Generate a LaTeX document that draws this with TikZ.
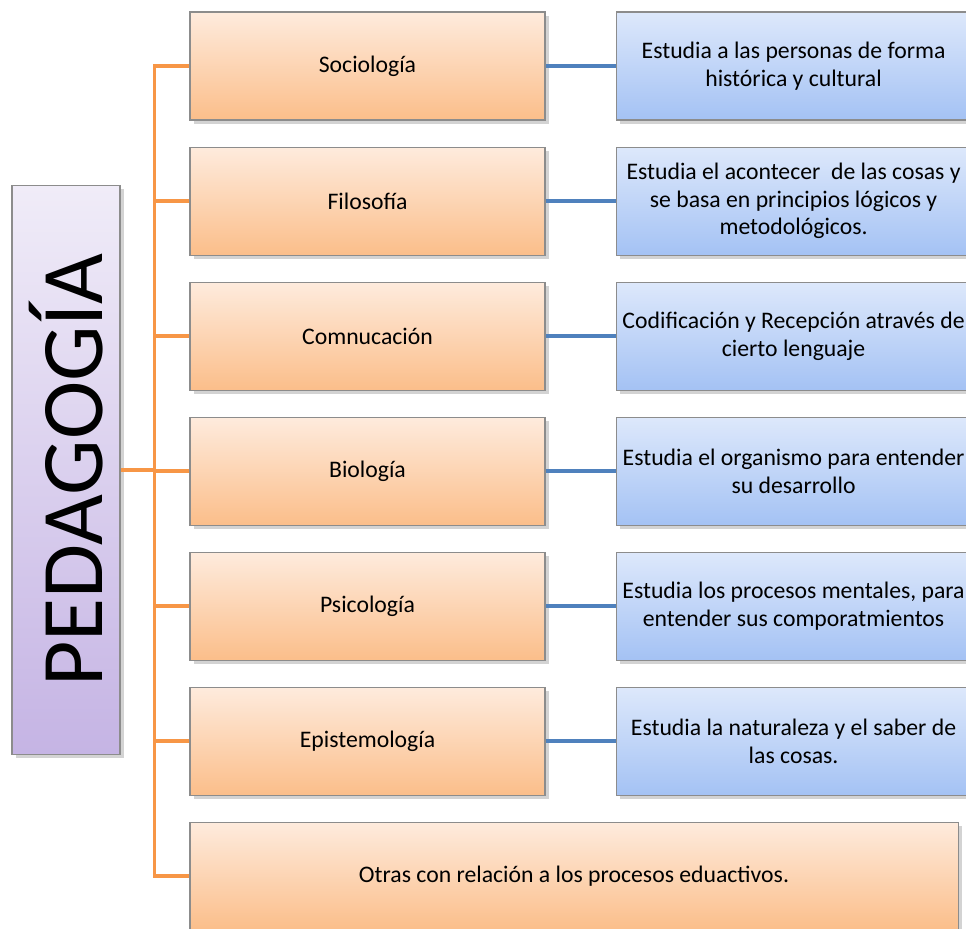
\documentclass[tikz,border=0pt]{standalone}
\usepackage{fontspec}
\setmainfont{Carlito}
\usepackage{tikz}
\usetikzlibrary{positioning,shapes,shadows,calc}

\definecolor{naranjaLinea}{HTML}{F79646}
\definecolor{azulLinea}{HTML}{4F81BD}
\definecolor{naranjaArriba}{HTML}{FEEBDD}
\definecolor{naranjaAbajo}{HTML}{FBBE8A}
\definecolor{azulArriba}{HTML}{DDE8FB}
\definecolor{azulAbajo}{HTML}{A4C2F4}
\definecolor{moradoArriba}{HTML}{F0ECF8}
\definecolor{moradoAbajo}{HTML}{C5B4E4}

\begin{document}
\begin{tikzpicture}[
  x=0.2mm, y=-0.2mm,
	node distance=5.2mm,
	every node/.style={
		font=\fontsize{13.5}{15.6}\selectfont
	},
	orangeline/.style={
		draw=naranjaLinea,
		line width=2.2pt
	},
	blueline/.style={
		draw=azulLinea,
		line width=2.2pt
	},
	disciplina/.style={
		rectangle,
		minimum height=21.6mm,
		minimum width=71mm,
		draw=black!45,
		line width=0.6pt,
		top color=naranjaArriba,
		bottom color=naranjaAbajo,
		drop shadow={shadow xshift=2pt, shadow yshift=-2pt, opacity=0.35},
		inner sep=4pt
	},
	descripcion/.style={
		rectangle,
		minimum height=21.6mm,
		minimum width=71mm,
		text width=70mm,
		align=flush center,
		draw=black!45,
		line width=0.6pt,
		top color=azulArriba,
		bottom color=azulAbajo,
		drop shadow={shadow xshift=2pt, shadow yshift=-2pt, opacity=0.35},
		inner sep=0.5mm
	},
	raiz/.style={
		rectangle,
		minimum height=113.8mm,
		minimum width=21.6mm,
		draw=black!45,
		line width=0.6pt,
		top color=moradoArriba,
		bottom color=moradoAbajo,
		drop shadow={shadow xshift=2pt, shadow yshift=-2pt, opacity=0.35}
	}
]
  \useasboundingbox (0,0) rectangle (966,928);
  \clip (0,0) rectangle (966,928);

  \node (Pedagogia) [raiz] at (66,470) {\rotatebox{90}{\fontsize{50}{50}\selectfont PEDAGOGÍA}};

  \node (Sociologia) [disciplina] at (367.5,66) {Sociología};
  \node (Filosofia) [disciplina, below=of Sociologia] {Filosofía};
  \node (Comunicacion) [disciplina, below=of Filosofia] {Comnucación};
  \node (Biologia) [disciplina, below=of Comunicacion] {Biología};
  \node (Psicologia) [disciplina, below=of Biologia] {Psicología};
  \node (Epistemologia) [disciplina, below=of Psicologia] {Epistemología};
  \node (Otras) [disciplina, minimum width=153.6mm, below=of Epistemologia.south west, anchor=north west] {Otras con relación a los procesos eduactivos.};

  \node (DescSociologia) [descripcion, right=14mm of Sociologia] {Estudia a las personas de forma\\ histórica y cultural};
  \node (DescFilosofia) [descripcion, right=14mm of Filosofia] {Estudia el acontecer~ de las cosas y\\ se basa en principios lógicos y\\ metodológicos.};
  \node (DescComunicacion) [descripcion, right=14mm of Comunicacion] {Codificación y Recepción através de\\ cierto lenguaje};
  \node (DescBiologia) [descripcion, right=14mm of Biologia] {Estudia el organismo para entender\\ su desarrollo};
  \node (DescPsicologia) [descripcion, right=14mm of Psicologia] {Estudia los procesos mentales, para\\ entender sus comporatmientos};
  \node (DescEpistemologia) [descripcion, right=14mm of Epistemologia] {Estudia la naturaleza y el saber de\\ las cosas.};

  \coordinate (Tronco) at ($ (Sociologia.west) + (-35,0) $);
  \draw[orangeline] (Sociologia.west) -- (Tronco) |- (Otras.west);
  \foreach \n in {Filosofia,Comunicacion,Biologia,Psicologia,Epistemologia}
    \draw[orangeline] (\n.west) -- (\n.west -| Tronco);
  \draw[orangeline] (Pedagogia.east) -- (Pedagogia.east -| Tronco);

  \foreach \n in {Sociologia,Filosofia,Comunicacion,Biologia,Psicologia,Epistemologia}
    \draw[blueline] (\n) -- (Desc\n);
\end{tikzpicture}
\end{document}
